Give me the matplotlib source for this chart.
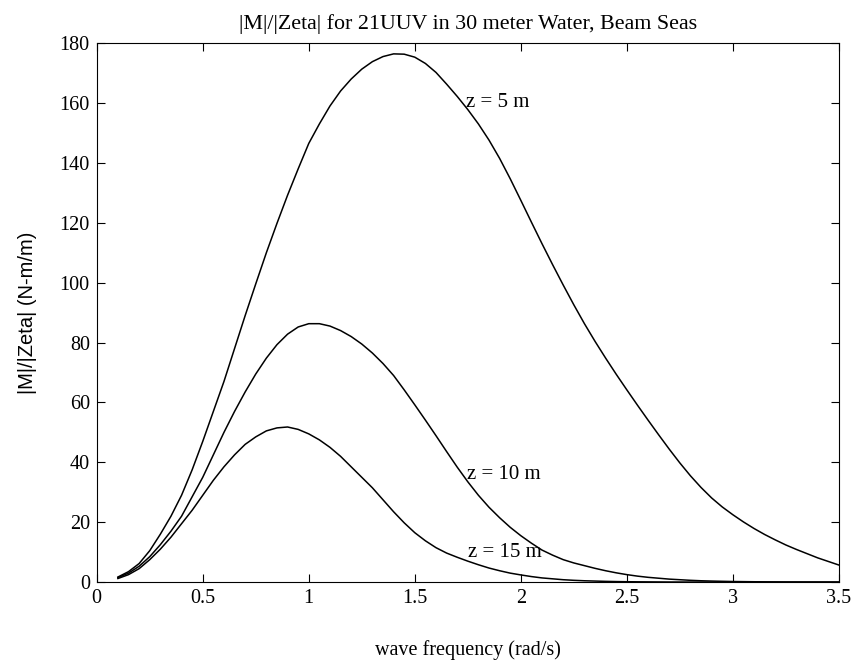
import numpy as np
import matplotlib
matplotlib.use('Agg')
import matplotlib.pyplot as plt

#data, every 0.05 rad/s from 0.1 to 3.5
freq = np.round(np.arange(0.1, 3.5001, 0.05), 2)
M_z5 = [1.7, 3.5, 6.2, 10.5, 16, 22, 29, 37.5, 47, 57,
        67, 78, 89, 99.6, 110, 119.8, 129.2, 138, 146.5, 153,
        159, 164, 168, 171.3, 173.8, 175.5, 176.4, 176.3, 175.3, 173.2,
        170.2, 166.3, 162.2, 157.8, 153, 147.6, 141.5, 134.7, 127.5, 120.2,
        113, 106, 99.2, 92.6, 86.3, 80.4, 74.8, 69.4, 64.2, 59.1,
        54.1, 49.2, 44.4, 39.8, 35.5, 31.6, 28.1, 25.1, 22.5, 20.1,
        17.9, 15.9, 14.1, 12.4, 10.9, 9.5, 8.1, 6.9, 5.7]
M_z10 = [1.5, 3.0, 5.3, 8.5, 12.5, 17, 22, 28.5, 35, 42.5,
         50, 57, 63.5, 69.5, 74.8, 79.3, 82.8, 85.2, 86.3, 86.3,
         85.5, 84, 82, 79.5, 76.5, 73, 69, 64.2, 59.2, 54.1,
         48.9, 43.6, 38.4, 33.5, 29, 25, 21.5, 18.3, 15.5, 13,
         10.7, 9, 7.5, 6.4, 5.5, 4.6, 3.8, 3.1, 2.5, 2.0,
         1.6, 1.3, 1.0, 0.8, 0.6, 0.45, 0.35, 0.27, 0.2, 0.16,
         0.12, 0.09, 0.07, 0.05, 0.04, 0.035, 0.03, 0.025, 0.02]
M_z15 = [1.2, 2.5, 4.5, 7.5, 11, 15, 19.5, 24, 29, 34,
         38.5, 42.5, 46, 48.5, 50.5, 51.5, 51.8, 51, 49.5, 47.5,
         45, 42, 38.5, 35, 31.5, 27.5, 23.5, 19.8, 16.5, 13.8,
         11.5, 9.7, 8.3, 7.0, 5.8, 4.7, 3.8, 3.0, 2.4, 1.85,
         1.4, 1.1, 0.8, 0.6, 0.45, 0.35, 0.25, 0.18, 0.13, 0.1,
         0.08, 0.06, 0.04, 0.03, 0.02, 0.02, 0.01, 0.01, 0.01, 0,
         0, 0, 0, 0, 0, 0, 0, 0, 0]

labels = ['z = 5 m', 'z = 10 m', 'z = 15 m']
label_pos = [(1.74, 160), (1.745, 36), (1.75, 10)]

xticks = [0, 0.5, 1, 1.5, 2, 2.5, 3, 3.5]
xticklabels = ['0', '0.5', '1', '1.5', '2', '2.5', '3', '3.5']
yticks = [0, 20, 40, 60, 80, 100, 120, 140, 160, 180]

serif = 'Liberation Serif'

fig = plt.figure(figsize=(8.56, 6.63), dpi=100)
ax = fig.add_axes([0.113, 0.122, 0.867, 0.813])

for series in (M_z5, M_z10, M_z15):
    ax.plot(freq, series, color='k', linewidth=1.1)

for txt, (lx, ly) in zip(labels, label_pos):
    ax.text(lx, ly, txt, family=serif, fontsize=15, va='center', ha='left')

ax.set_xlim(0, 3.5)
ax.set_ylim(0, 180)
ax.set_xticks(xticks)
ax.set_xticklabels(xticklabels)
ax.set_yticks(yticks)
ax.tick_params(direction='in', top=True, right=True, length=6, width=0.8,
               labelsize=14.5, pad=5)
for lab in ax.get_xticklabels() + ax.get_yticklabels():
    lab.set_family(serif)
for sp in ax.spines.values():
    sp.set_linewidth(0.8)

ax.set_title('|M|/|Zeta| for 21UUV in 30 meter Water, Beam Seas',
             family=serif, fontsize=15.8, pad=10)
ax.set_xlabel('wave frequency (rad/s)', family=serif, fontsize=14.5, labelpad=23)
ax.set_ylabel('|M|/|Zeta| (N-m/m)', family='Liberation Sans', fontsize=14.5, labelpad=16)

fig.savefig('out.png', dpi=100)
